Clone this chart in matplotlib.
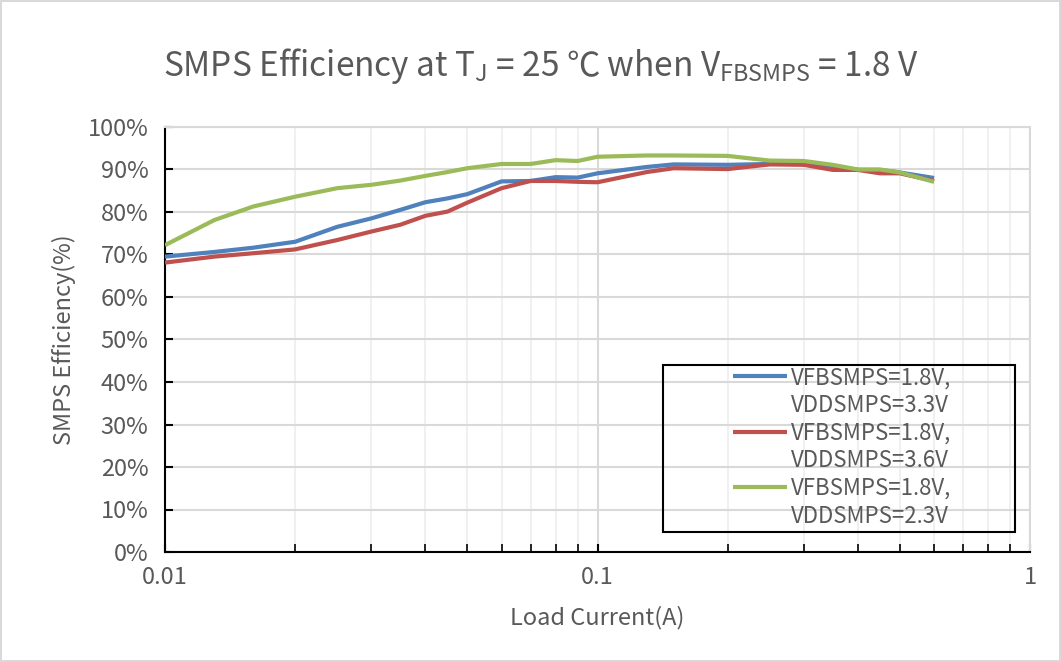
import numpy as np
import matplotlib
matplotlib.use("Agg")
import matplotlib.pyplot as plt
from matplotlib.lines import Line2D
from matplotlib.patches import Rectangle
from matplotlib.ticker import FixedLocator, FuncFormatter, LogLocator, NullFormatter

plt.rcParams['font.family'] = ['Noto Sans CJK SC', 'DejaVu Sans']
plt.rcParams['mathtext.fontset'] = 'custom'
plt.rcParams['mathtext.rm'] = 'Noto Sans CJK SC'

# load current (A)
current = [0.01, 0.013, 0.016, 0.02, 0.025, 0.03, 0.035, 0.04, 0.045, 0.05,
           0.06, 0.07, 0.08, 0.09, 0.1, 0.13, 0.15, 0.2, 0.25, 0.3,
           0.35, 0.4, 0.45, 0.5, 0.6]

# efficiency (%) for each supply
eff_33 = [69.5, 70.6, 71.6, 73.0, 76.5, 78.5, 80.5, 82.3, 83.2, 84.2,
          87.2, 87.3, 88.2, 88.1, 89.1, 90.6, 91.2, 91.1, 91.3, 91.4,
          90.8, 89.9, 89.9, 89.3, 88.0]
eff_36 = [68.1, 69.5, 70.3, 71.2, 73.4, 75.4, 77.0, 79.1, 80.1, 82.2,
          85.6, 87.3, 87.3, 87.1, 87.0, 89.4, 90.3, 90.1, 91.2, 91.1,
          89.9, 89.9, 89.1, 89.1, 87.3]
eff_23 = [72.2, 78.1, 81.3, 83.6, 85.6, 86.4, 87.4, 88.5, 89.4, 90.3,
          91.3, 91.3, 92.2, 92.0, 93.0, 93.3, 93.3, 93.2, 92.1, 92.0,
          91.1, 90.0, 90.0, 89.3, 87.1]

labels = ['VFBSMPS=1.8V,\nVDDSMPS=3.3V',
          'VFBSMPS=1.8V,\nVDDSMPS=3.6V',
          'VFBSMPS=1.8V,\nVDDSMPS=2.3V']
colors = ['#4F81BD', '#C0504D', '#9BBB59']

txt = '#595959'

fig = plt.figure(figsize=(10.61, 6.62), dpi=100)
fig.patch.set_edgecolor('#D9D9D9')
fig.patch.set_linewidth(1.5)
ax = fig.add_axes([165/1061, 110/662, 865/1061, 425/662])

lines = []
for y, c in zip([eff_33, eff_36, eff_23], colors):
    ln, = ax.plot(current, y, color=c, lw=3, solid_capstyle='butt',
                  solid_joinstyle='round', zorder=3)
    lines.append(ln)

ax.set_xscale('log')
ax.set_xlim(0.01, 1)
ax.set_ylim(0, 100)
ax.yaxis.set_major_locator(FixedLocator(np.arange(0, 101, 10)))
ax.yaxis.set_major_formatter(FuncFormatter(lambda v, p: '%d%%' % v))
ax.xaxis.set_major_locator(FixedLocator([0.01, 0.1, 1]))
ax.xaxis.set_major_formatter(FuncFormatter(lambda v, p: '%g' % v))
ax.xaxis.set_minor_locator(LogLocator(base=10, subs=np.arange(2, 10)))
ax.xaxis.set_minor_formatter(NullFormatter())

ax.grid(True, which='major', color='#D9D9D9', lw=1.5, zorder=0)
ax.grid(True, which='minor', axis='x', color='#EEEEEE', lw=1.2, zorder=0)

for s in ['top', 'right']:
    ax.spines[s].set_color('#D9D9D9')
    ax.spines[s].set_linewidth(1.5)
for s in ['left', 'bottom']:
    ax.spines[s].set_color('black')
    ax.spines[s].set_linewidth(1.5)

ax.tick_params(axis='both', which='both', direction='in', colors='black',
               labelcolor=txt, labelsize=17)
ax.tick_params(axis='y', which='major', length=6, width=1.5, pad=12)
ax.tick_params(axis='x', which='major', length=6, width=1.5, pad=10)
ax.tick_params(axis='x', which='minor', length=6, width=1.2)

ax.set_xlabel('Load Current(A)', fontsize=17, color=txt, labelpad=12)
ax.set_ylabel('SMPS Efficiency(%)', fontsize=17, color=txt, labelpad=8)

fig.text(0.51, 0.90, r'SMPS Efficiency at T$_\mathregular{J}$ = 25 ℃ when V$_\mathregular{FBSMPS}$ = 1.8 V',
         ha='center', va='center', fontsize=24, color=txt)

# legend: colored handle on the first line of each two-line label
blank = Line2D([], [], color='none')
handles, texts = [], []
for ln, lab in zip(lines, labels):
    a, b = lab.split('\n')
    handles += [ln, blank]
    texts += [a, b]
ax.add_patch(Rectangle((0.5757, 0.047), 0.407, 0.393, transform=ax.transAxes,
                       fill=False, edgecolor='black', lw=1.5, zorder=4))
leg = ax.legend(handles, texts, loc='upper left', bbox_to_anchor=(0.6567, 0.437),
                frameon=False, fontsize=16, labelcolor=txt,
                handlelength=2.45, handletextpad=0.15, labelspacing=0.21,
                borderpad=0, borderaxespad=0)

fig.savefig('out.png', dpi=100, facecolor='white', edgecolor=fig.patch.get_edgecolor())
